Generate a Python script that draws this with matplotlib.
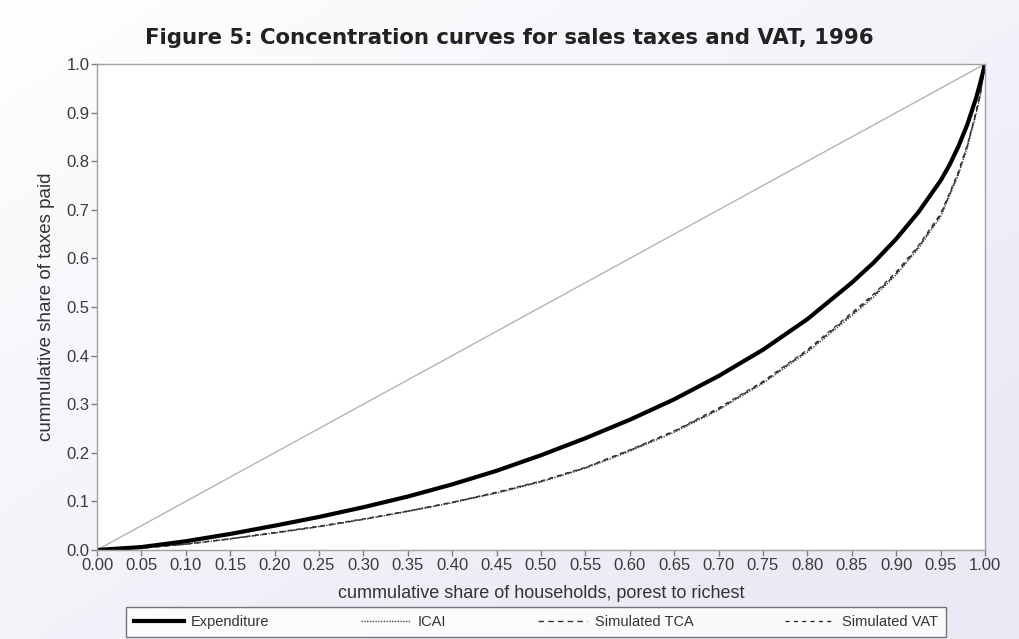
import matplotlib
matplotlib.use("Agg")
import matplotlib.pyplot as plt
import numpy as np

# Data
share_households = [0.00, 0.05, 0.10, 0.15, 0.20, 0.25, 0.30, 0.35, 0.40, 0.45, 0.50,
                    0.55, 0.60, 0.65, 0.70, 0.75, 0.80, 0.85, 0.875, 0.90, 0.925, 0.95,
                    0.96, 0.97, 0.98, 0.99, 0.995, 1.00]
expenditure = [0.000, 0.006, 0.018, 0.033, 0.050, 0.068, 0.088, 0.110, 0.135, 0.163, 0.195,
               0.230, 0.268, 0.310, 0.358, 0.412, 0.475, 0.550, 0.592, 0.640, 0.695, 0.760,
               0.792, 0.830, 0.875, 0.930, 0.963, 1.000]
icai = [0.000, 0.004, 0.012, 0.023, 0.035, 0.048, 0.063, 0.079, 0.097, 0.117, 0.140,
        0.168, 0.203, 0.242, 0.288, 0.343, 0.407, 0.482, 0.521, 0.566, 0.620, 0.686,
        0.728, 0.772, 0.827, 0.897, 0.938, 1.000]
simulated_tca = [0.000, 0.004, 0.012, 0.023, 0.035, 0.048, 0.063, 0.080, 0.098, 0.118, 0.141,
                 0.169, 0.205, 0.244, 0.290, 0.345, 0.410, 0.485, 0.524, 0.569, 0.623, 0.689,
                 0.731, 0.775, 0.830, 0.900, 0.940, 1.000]
simulated_vat = [0.000, 0.004, 0.012, 0.023, 0.036, 0.049, 0.064, 0.080, 0.098, 0.119, 0.142,
                 0.170, 0.206, 0.245, 0.292, 0.347, 0.412, 0.488, 0.527, 0.572, 0.626, 0.692,
                 0.734, 0.778, 0.833, 0.902, 0.942, 1.000]
equality = [0.0, 1.0]

x_ticks = np.round(np.arange(0, 1.0001, 0.05), 2)
y_ticks = np.round(np.arange(0, 1.0001, 0.1), 1)

plt.rcParams['font.family'] = ['Liberation Sans', 'DejaVu Sans']

fig = plt.figure(figsize=(10.19, 6.39), dpi=100)

# background gradient (white top-left to lavender bottom-right)
bg = fig.add_axes([0, 0, 1, 1], zorder=-10)
gx, gy = np.meshgrid(np.linspace(0, 1, 200), np.linspace(0, 1, 200))
t = np.clip((gx * 0.6 + gy * 0.6), 0, 1)
white = np.array([1.0, 1.0, 1.0])
lav = np.array([0.918, 0.918, 0.965])
img = white[None, None, :] * (1 - t[..., None]) + lav[None, None, :] * t[..., None]
bg.imshow(img, aspect='auto', extent=[0, 1, 0, 1], origin='upper')
bg.axis('off')

ax = fig.add_axes([0.0952, 0.1393, 0.8714, 0.7605])
ax.set_facecolor('white')

ax.plot(equality, equality, color='#b4b4b4', lw=1.0)
ax.plot(share_households, icai, color='#444444', lw=1.0, ls=(0, (1, 1)), label='ICAI')
ax.plot(share_households, simulated_tca, color='#333333', lw=1.0, ls=(0, (4, 3)), label='Simulated TCA')
ax.plot(share_households, simulated_vat, color='#333333', lw=1.0, ls=(0, (3, 3)), label='Simulated VAT')
ax.plot(share_households, expenditure, color='black', lw=3.0, label='Expenditure')

ax.set_xlim(0, 1)
ax.set_ylim(0, 1)
ax.set_xticks(x_ticks)
ax.set_xticklabels([f"{v:.2f}" for v in x_ticks])
ax.set_yticks(y_ticks)
ax.set_yticklabels([f"{v:.1f}" for v in y_ticks])
ax.tick_params(axis='both', direction='out', length=4, width=1, color='#808080',
               labelsize=12, labelcolor='#3a3a3a', pad=1.5)
for s in ax.spines.values():
    s.set_color('#a0a0a0')
    s.set_linewidth(1.0)

ax.set_xlabel('cummulative share of households, porest to richest', fontsize=13, color='#333333')
ax.xaxis.set_label_coords(0.5, -0.072)
ax.set_ylabel('cummulative share of taxes paid', fontsize=13.5, color='#333333')
ax.yaxis.set_label_coords(-0.047, 0.5)

fig.text(0.5, 0.940, 'Figure 5: Concentration curves for sales taxes and VAT, 1996',
         ha='center', va='center', fontsize=15.3, fontweight='bold', family='DejaVu Sans', color='#222222')

h, l = ax.get_legend_handles_labels()
order = [3, 0, 1, 2]
leg = fig.legend([h[i] for i in order], [l[i] for i in order], loc='lower left',
                 bbox_to_anchor=(126 / 1019, 2 / 639, 820 / 1019, 28 / 639), mode='expand',
                 ncol=4, fontsize=10.5, frameon=True,
                 fancybox=False, edgecolor='#555555', handlelength=3.4,
                 borderpad=0.55, handletextpad=0.5, borderaxespad=0)
leg.get_frame().set_linewidth(1.0)
for tx in leg.get_texts():
    tx.set_color('#333333')

fig.savefig('out.png', dpi=100)
